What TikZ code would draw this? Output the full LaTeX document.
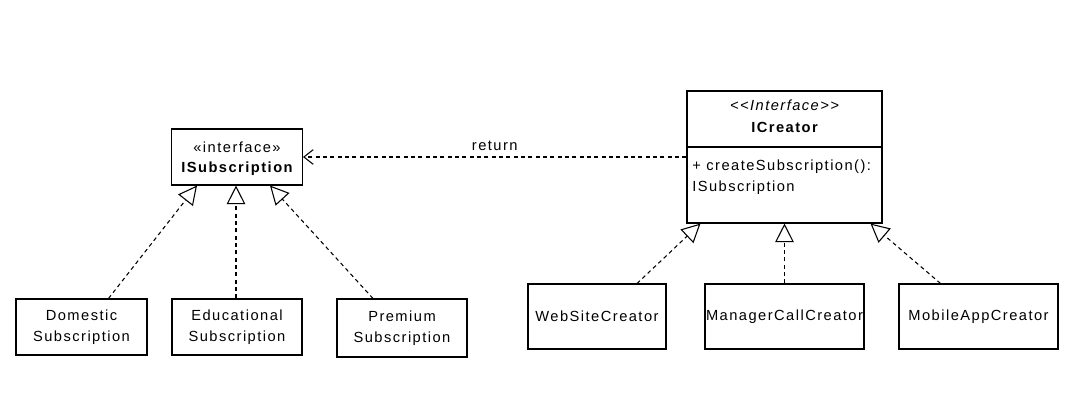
\documentclass[tikz,border=0pt]{standalone}
\usepackage{fontspec}
\setmainfont{Liberation Sans}[LetterSpace=10]
\usetikzlibrary{arrows.meta,calc}
\begin{document}
\begin{tikzpicture}[x=0.75pt,y=-0.75pt,
  every node/.style={font=\fontsize{11}{15.75}\selectfont},
  box/.style={draw, line width=0.8pt, inner sep=0pt, align=center},
  txt/.style={inner sep=0pt, align=center},
  realize/.style={draw, line width=0.8pt, dash pattern=on 3pt off 2.5pt,
     -{Triangle[open, length=14pt, width=14pt, line width=0.8pt]}},
  dep/.style={draw, line width=0.8pt, dash pattern=on 3pt off 2.5pt,
     -{Straight Barb[length=7pt, width=11pt, line width=0.8pt]}}]
\useasboundingbox (0,0) rectangle (1079,418);
\fill[white] (0,0) rectangle (1079,418);

% ISubscription
\node[box, minimum width=98.25pt, minimum height=42pt] (isub) at (237,157) {};
\node[txt] (isubst) at (237,147) {«interface»};
\node[txt, font=\fontsize{11}{15.75}\selectfont\bfseries] (isubname) at (237,169) {ISubscription};

% ICreator
\node[box, minimum width=146.25pt, minimum height=99pt] (icr) at (784.5,157) {};
\node[txt, font=\fontsize{11}{15.75}\selectfont\itshape] (icrst) at (784.5,105) {<{}<Interface>{}>};
\node[txt, font=\fontsize{11}{15.75}\selectfont\bfseries] (icrname) at (784.5,127) {ICreator};
\coordinate (divl) at (687,147);
\coordinate (divr) at (882,147);
\draw[line width=0.8pt] (divl) -- (divr);
\node[txt, align=left, anchor=west] (icrops) at (692,177.5) {+ createSubscription():\\ISubscription};

% children of ISubscription
\node[box, minimum width=98.25pt, minimum height=42pt] (dom) at (81.5,327) {Domestic\\Subscription};
\node[box, minimum width=97.5pt, minimum height=42pt] (edu) at (237,327) {Educational\\Subscription};
\node[box, minimum width=97.5pt, minimum height=43.5pt] (pre) at (402,328) {Premium\\Subscription};

% children of ICreator
\node[box, minimum width=103.5pt, minimum height=48.75pt] (web) at (597,316.5) {WebSiteCreator};
\node[box, minimum width=119.25pt, minimum height=48.75pt] (mgr) at (784.5,316.5) {ManagerCallCreator};
\node[box, minimum width=119.25pt, minimum height=48.75pt] (mob) at (978.5,316.5) {MobileAppCreator};

% realization arrows
\draw[realize] ($(dom.north)+(27,0)$) -- ($(isub.south)+(-40,0)$);
\draw[realize] ($(edu.north)+(-1,0)$) -- ($(isub.south)+(-1,0)$);
\draw[realize] ($(pre.north)+(-29,0)$) -- ($(isub.south)+(33,0)$);
\draw[realize] ($(web.north)+(40,0)$) -- ($(icr.south)+(-84,0)$);
\draw[realize] (mgr.north) -- (icr.south);
\draw[realize] ($(mob.north)+(-38,0)$) -- ($(icr.south)+(86,0)$);

% return dependency
\draw[dep] (icr.west) -- (isub.east) node[txt, midway, above=4pt] (retlbl) {return};
\end{tikzpicture}
\end{document}
